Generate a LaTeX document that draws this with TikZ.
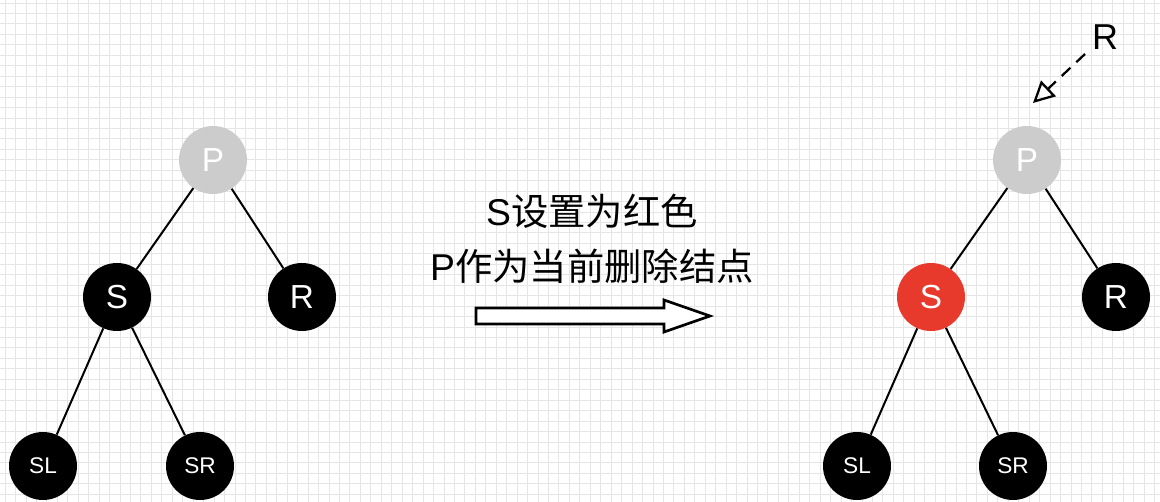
\documentclass[tikz,border=0pt]{standalone}
\usepackage{fontspec}
\setmainfont{Liberation Sans}
\newfontfamily\cjk{Noto Sans CJK SC}
\usetikzlibrary{arrows.meta}
\tikzset{
  tnode/.style={circle, minimum size=51, inner sep=0pt, text=white, font=\fontsize{25}{25}\selectfont},
  blk/.style={tnode, fill=black},
  gry/.style={tnode, fill=black!20},
  redn/.style={tnode, fill={rgb,255:red,232;green,58;blue,44}},
  small/.style={tnode, fill=black, font=\fontsize{17}{17}\selectfont},
  edge/.style={line width=1.5, black},
  gridline/.style={black!10, line width=0.6}
}
\begin{document}
\begin{tikzpicture}[x=0.75pt,y=-0.75pt]
\useasboundingbox (0,0) rectangle (1160,502);
\fill[white] (0,0) rectangle (1160,502);
\foreach \i in {0,...,111} { \draw[gridline] ({5+\i*10.45},0) -- ({5+\i*10.45},502); }
\foreach \j in {0,...,48} { \draw[gridline] (0,{3+\j*10.45}) -- (1160,{3+\j*10.45}); }
% left tree
\node[gry] (lP) at (213,160) {P};
\node[blk] (lS) at (117,297) {S};
\node[blk] (lR) at (302,297) {R};
\node[small] (lSL) at (43,466) {SL};
\node[small] (lSR) at (200,466) {SR};
\draw[edge] (lP) -- (lS);
\draw[edge] (lP) -- (lR);
\draw[edge] (lS) -- (lSL);
\draw[edge] (lS) -- (lSR);
% right tree
\node[gry] (rP) at (1027,160) {P};
\node[redn] (rS) at (931,297) {S};
\node[blk] (rR) at (1116,297) {R};
\node[small] (rSL) at (857,466) {SL};
\node[small] (rSR) at (1013,466) {SR};
\draw[edge] (rP) -- (rS);
\draw[edge] (rP) -- (rR);
\draw[edge] (rS) -- (rSL);
\draw[edge] (rS) -- (rSR);
% text
\node[font=\fontsize{28}{28}\selectfont] (t1) at (592,211) {S\cjk 设置为红色};
\node[font=\fontsize{28}{28}\selectfont] (t2) at (592,266) {P\cjk 作为当前删除结点};
% big arrow
\draw[line width=2, fill=white, line join=miter]
  (476,308) -- (664,308) -- (664,300) -- (710,316) -- (664,332) -- (664,324) -- (476,324) -- cycle;
% R pointer
\node[font=\fontsize{27}{27}\selectfont, anchor=center] (Rl) at (1105,37) {R};
\coordinate (Rs) at (1085,54);
\coordinate (Rt) at (1033,103);
\draw[line width=1.7, dashed, dash pattern=on 9 off 6, -{Triangle[open, length=16, width=16]}] (Rs) -- (Rt);
\end{tikzpicture}
\end{document}
